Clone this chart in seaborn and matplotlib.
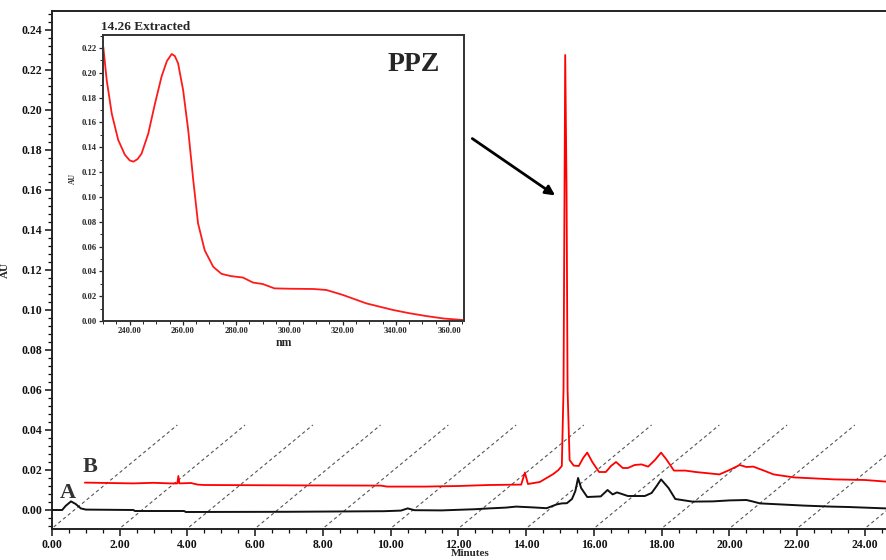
import seaborn as sns
import matplotlib
import matplotlib.pyplot as plt
from matplotlib.ticker import MultipleLocator, FormatStrFormatter
import pandas as pd
import numpy as np

# chromatogram A (black), minutes / AU
time_a = [0.0, 0.3, 0.4, 0.56, 0.7, 0.85, 1.0, 2.4, 2.45, 3.9, 3.95, 6.9, 9.8, 10.3,
          10.5, 10.7, 11.5, 12.5, 12.9, 13.4, 13.7, 14.2, 14.6, 14.9, 15.05, 15.2, 15.35,
          15.45, 15.53, 15.62, 15.8, 16.2, 16.4, 16.55, 16.68, 17.0, 17.5, 17.7, 17.85,
          17.98, 18.2, 18.4, 18.9, 19.5, 20.0, 20.5, 20.7, 20.9, 21.5, 22.2, 23.0, 23.5, 24.62]
au_a = [0.0, 0.0, 0.002, 0.0043, 0.003, 0.0008, 0.0002, 0.0, -0.0005, -0.0005, -0.001,
        -0.0009, -0.0006, -0.0003, 0.0008, -0.0001, -0.0002, 0.0004, 0.0008, 0.0012, 0.0017,
        0.0013, 0.0009, 0.0028, 0.0033, 0.0034, 0.0055, 0.0095, 0.016, 0.011, 0.0065,
        0.0068, 0.010, 0.0078, 0.0088, 0.007, 0.007, 0.0085, 0.012, 0.0153, 0.011, 0.0055,
        0.0042, 0.0043, 0.0048, 0.005, 0.0042, 0.0033, 0.0028, 0.0022, 0.0017, 0.0015, 0.0008]

# chromatogram B (red)
time_b = [0.97, 2.4, 3.0, 3.5, 3.7, 3.73, 3.76, 4.1, 4.3, 4.5, 7.3, 9.7, 9.9, 11.0, 12.0,
          12.9, 13.85, 13.96, 14.05, 14.4, 14.8, 14.95, 15.05, 15.1, 15.15, 15.19, 15.22,
          15.28, 15.4, 15.55, 15.68, 15.8, 15.95, 16.15, 16.35, 16.5, 16.65, 16.85, 17.0,
          17.2, 17.4, 17.6, 17.8, 17.98, 18.15, 18.36, 18.7, 19.0, 19.7, 20.0, 20.3, 20.5,
          20.7, 21.0, 21.3, 21.9, 22.5, 23.1, 24.0, 24.62]
au_b = [0.0137, 0.0133, 0.0136, 0.0133, 0.0133, 0.017, 0.0133, 0.0135, 0.0127, 0.0125,
        0.0123, 0.0122, 0.0117, 0.0117, 0.012, 0.0125, 0.0127, 0.0187, 0.013, 0.014, 0.018,
        0.02, 0.022, 0.06, 0.2275, 0.16, 0.06, 0.025, 0.0222, 0.022, 0.026, 0.0287, 0.024,
        0.019, 0.019, 0.022, 0.024, 0.021, 0.021, 0.0225, 0.0228, 0.0217, 0.025, 0.0287,
        0.025, 0.0197, 0.0197, 0.019, 0.0178, 0.020, 0.0225, 0.0215, 0.0217, 0.0198, 0.0178,
        0.0163, 0.0158, 0.0153, 0.015, 0.0142]

# UV spectrum of the 14.26 min peak
wl = [230.1, 231.4, 233.3, 235.7, 238.2, 240.0, 241.4, 243.0, 244.5, 247.0, 249.5, 252.0,
      254.0, 255.8, 257.0, 258.2, 260.1, 262.0, 263.9, 265.7, 268.2, 271.4, 274.5, 278.0,
      282.6, 286.3, 290.0, 294.4, 300.0, 308.9, 313.9, 320.1, 328.9, 338.9, 345.0, 351.4,
      358.0, 365.1]
au_uv = [0.221, 0.194, 0.167, 0.146, 0.134, 0.1295, 0.1284, 0.1305, 0.135, 0.151, 0.175,
         0.197, 0.2095, 0.2152, 0.2135, 0.2077, 0.186, 0.154, 0.1136, 0.0787, 0.057, 0.0437,
         0.038, 0.0362, 0.035, 0.031, 0.0298, 0.0263, 0.026, 0.0258, 0.025, 0.021, 0.0142,
         0.0089, 0.0063, 0.004, 0.002, 0.0008]

# offset guide lines of the overlay (start minute)
guide_starts = [0.05, 2.05, 4.05, 6.05, 8.05, 10.05, 12.05, 14.05, 16.05, 18.05, 20.05,
                22.05, 24.05]
guide_span = 3.65
guide_low, guide_high = -0.0085, 0.0425

sns.set_style("ticks")
plt.rcParams["font.family"] = ["Liberation Serif", "DejaVu Serif"]
plt.rcParams["font.weight"] = "bold"
plt.rcParams["axes.labelweight"] = "bold"

fig = plt.figure(figsize=(8.86, 5.6), dpi=100)
ax = fig.add_axes([52 / 886, 31 / 560, 1 - 52 / 886, 518 / 560])

for s in guide_starts:
    ax.plot([s, s + guide_span], [guide_low, guide_high], color="#555555", lw=0.8,
            ls=(0, (3, 2.5)), zorder=1)

df_a = pd.DataFrame({"Minutes": time_a, "AU": au_a})
df_b = pd.DataFrame({"Minutes": time_b, "AU": au_b})
sns.lineplot(ax=ax, data=df_a, x="Minutes", y="AU", color="#111111", lw=1.4,
             estimator=None, sort=False, zorder=3)
sns.lineplot(ax=ax, data=df_b, x="Minutes", y="AU", color="#ff0000", lw=1.3,
             estimator=None, sort=False, zorder=4)

ax.set_xlim(0, 24.62)
ax.set_ylim(-0.0095, 0.2495)
ax.xaxis.set_major_locator(MultipleLocator(2))
ax.xaxis.set_minor_locator(MultipleLocator(0.5))
ax.yaxis.set_major_locator(MultipleLocator(0.02))
ax.yaxis.set_minor_locator(MultipleLocator(0.004))
ax.xaxis.set_major_formatter(FormatStrFormatter("%.2f"))
ax.yaxis.set_major_formatter(FormatStrFormatter("%.2f"))
ax.tick_params(which="major", length=5, width=1.1, labelsize=8.5, pad=2, colors="#111111")
ax.tick_params(which="minor", length=3, width=0.9, colors="#111111")
for lab in ax.get_xticklabels() + ax.get_yticklabels():
    lab.set_fontweight("bold")
for side in ["left", "bottom", "top"]:
    ax.spines[side].set_visible(True)
    ax.spines[side].set_color("#222222")
    ax.spines[side].set_linewidth(1.4)
ax.spines["right"].set_visible(False)
ax.set_xlabel("")
ax.set_ylabel("AU", fontsize=8, fontweight="bold", labelpad=8)
fig.text(470 / 886, 11 / 560, "Minutes", ha="center", va="top", fontsize=8,
         fontweight="bold")

ax.text(0.24, 0.006, "A", fontsize=16, fontweight="bold", color="#333333")
ax.text(0.9, 0.019, "B", fontsize=16, fontweight="bold", color="#333333")
ax.annotate("", xy=(14.92, 0.1565), xytext=(12.34, 0.1865),
            arrowprops=dict(arrowstyle="-|>", color="black", lw=2, mutation_scale=14))

# inset spectrum
ins = fig.add_axes([103 / 886, 239 / 560, 361 / 886, 286 / 560])
df_uv = pd.DataFrame({"nm": wl, "AU": au_uv})
sns.lineplot(ax=ins, data=df_uv, x="nm", y="AU", color="#ff1a1a", lw=1.3,
             estimator=None, sort=False)
ins.set_xlim(230, 365.6)
ins.set_ylim(0, 0.2305)
ins.xaxis.set_major_locator(MultipleLocator(20))
ins.xaxis.set_minor_locator(MultipleLocator(5))
ins.yaxis.set_major_locator(MultipleLocator(0.02))
ins.yaxis.set_minor_locator(MultipleLocator(0.01))
ins.xaxis.set_major_formatter(FormatStrFormatter("%.2f"))
ins.yaxis.set_major_formatter(FormatStrFormatter("%.2f"))
ins.tick_params(which="major", length=3, width=0.9, labelsize=6.2, pad=1.5)
ins.tick_params(which="minor", length=2, width=0.7)
for lab in ins.get_xticklabels() + ins.get_yticklabels():
    lab.set_fontweight("bold")
for side in ["left", "bottom", "top", "right"]:
    ins.spines[side].set_visible(True)
    ins.spines[side].set_color("#333333")
    ins.spines[side].set_linewidth(1.4)
ins.set_xlabel("nm", fontsize=8.5, fontweight="bold", labelpad=1)
ins.set_ylabel("AU", fontsize=5.5, fontweight="bold", labelpad=3)
ins.text(-0.005, 1.018, "14.26 Extracted", transform=ins.transAxes, fontsize=9.5,
         fontweight="bold", ha="left", va="baseline")
ins.text(0.789, 0.874, "PPZ", transform=ins.transAxes, fontsize=20, fontweight="bold",
         ha="left", va="baseline")

fig.savefig("out.png", dpi=100)
